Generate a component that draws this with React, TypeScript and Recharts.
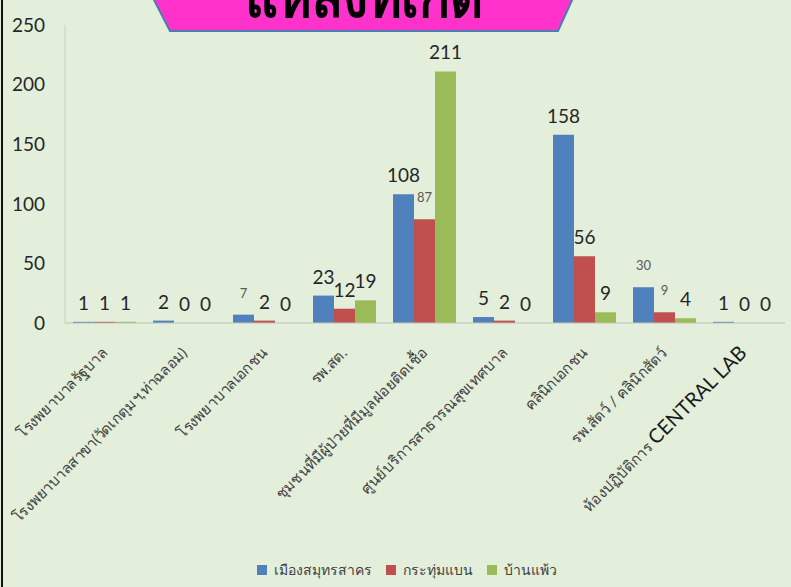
import React from "react";
import { BarChart, Bar, XAxis, YAxis, Legend, LabelList, Cell } from "recharts";

const categories = [
  "โรงพยาบาลรัฐบาล",
  "โรงพยาบาลสาขา(วัดเกตุมฯ,ท่าฉลอม)",
  "โรงพยาบาลเอกชน",
  "รพ.สต.",
  "ชุมชนที่มีผู้ป่วยที่มีมูลฝอยติดเชื้อ",
  "ศูนย์บริการสาธารณสุขเทศบาล",
  "คลินิกเอกชน",
  "รพ.สัตว์ / คลินิกสัตว์",
  "ห้องปฏิบัติการ CENTRAL LAB",
];
const muang = [1, 2, 7, 23, 108, 5, 158, 30, 1];
const krathum = [1, 0, 2, 12, 87, 2, 56, 9, 0];
const banphaeo = [1, 0, 0, 19, 211, 0, 9, 4, 0];
const yTicks = [0, 50, 100, 150, 200, 250];
const title = "แหล่งที่เกิด";

const seriesList = [
  { key: "muang", name: "เมืองสมุทรสาคร", color: "#4f81bd" },
  { key: "krathum", name: "กระทุ่มแบน", color: "#c0504d" },
  { key: "banphaeo", name: "บ้านแพ้ว", color: "#9bbb59" },
];

// a few labels were shown smaller and grey in the original
const smallLabels = new Set(["muang-2", "krathum-4", "muang-7", "krathum-7"]);

const data = categories.map((name, i) => ({
  name,
  muang: muang[i],
  krathum: krathum[i],
  banphaeo: banphaeo[i],
}));

const FONT = "Lato, 'Noto Sans', 'DejaVu Sans', sans-serif";

const makeLabel = (key: string) => (props: any) => {
  const { x, y, width, value, index } = props;
  const small = smallLabels.has(`${key}-${index}`);
  return (
    <text
      x={x + width / 2}
      y={small ? y - 17 : y - 12}
      textAnchor="middle"
      fontFamily={FONT}
      fontSize={small ? 13 : 19}
      fill={small ? "#595959" : "#262626"}
    >
      {value}
    </text>
  );
};

const XTick = (props: any) => {
  const { x, y, payload } = props;
  const label: string = payload.value;
  const m = label.match(/^(.*?)([A-Z][A-Z ]+)$/);
  return (
    <g transform={`translate(${x + 3},${y + 23})`}>
      <text transform="rotate(-45)" textAnchor="end" fontFamily={FONT} fontSize={15} fill="#404040">
        {m ? (
          <>
            <tspan>{m[1]}</tspan>
            <tspan fontSize={20} fill="#1a1a1a">{m[2]}</tspan>
          </>
        ) : (
          label
        )}
      </text>
    </g>
  );
};

const LegendContent = () => (
  <div style={{ display: "flex", justifyContent: "center", gap: 14, fontFamily: FONT, fontSize: 14, color: "#404040", paddingLeft: 22 }}>
    {seriesList.map((s) => (
      <div key={s.key} style={{ display: "flex", alignItems: "center" }}>
        <span style={{ width: 10, height: 10, background: s.color, display: "inline-block", marginRight: 7 }} />
        <span>{s.name}</span>
      </div>
    ))}
  </div>
);

export default function App() {
  return (
    <div style={{ position: "relative", width: 791, height: 587, background: "#e3efdb", overflow: "hidden" }}>
      <style>{`body{margin:0}`}</style>
      <div style={{ position: "absolute", left: 1, top: 0, width: 2, height: 587, background: "#111" }} />
      <BarChart
        width={791}
        height={587}
        data={data}
        margin={{ top: 25, right: 6, left: 0, bottom: 234 }}
        barCategoryGap="10%"
        barGap={0}
      >
        <XAxis dataKey="name" interval={0} tickLine={false} axisLine={{ stroke: "#bcc4b4" }} tick={<XTick />} />
        <YAxis
          width={65}
          domain={[0, 250]}
          ticks={yTicks}
          tickLine={false}
          tickMargin={14}
          axisLine={{ stroke: "#c9d1c1" }}
          tick={{ fill: "#262626", fontSize: 19, fontFamily: FONT }}
        />
        <Legend
          layout="horizontal"
          verticalAlign="middle"
          align="center"
          wrapperStyle={{ top: 559, left: 0, width: 791 }}
          content={<LegendContent />}
        />
        {seriesList.map((s) => (
          <Bar
            key={s.key}
            dataKey={s.key}
            name={s.name}
            fill={s.color}
            minPointSize={(v: number) => (v === 0 ? 0.01 : 0)}
            isAnimationActive={false}
          >
            {data.map((d: any, i) => (
              <Cell key={i} fill={d[s.key] === 0 ? "transparent" : s.color} />
            ))}
            <LabelList dataKey={s.key} content={makeLabel(s.key)} />
          </Bar>
        ))}
      </BarChart>
      <svg width={791} height={40} style={{ position: "absolute", left: 0, top: 0 }}>
        <polygon points="153,-2 573,-2 558,31 170,31" fill="#ff33cc" stroke="#4a7eb0" strokeWidth={2} />
        <text x={245} y={17} textLength={238} lengthAdjust="spacingAndGlyphs" fontSize={58} fontWeight="bold" fontFamily={FONT} fill="#000">
          {title}
        </text>
      </svg>
    </div>
  );
}
